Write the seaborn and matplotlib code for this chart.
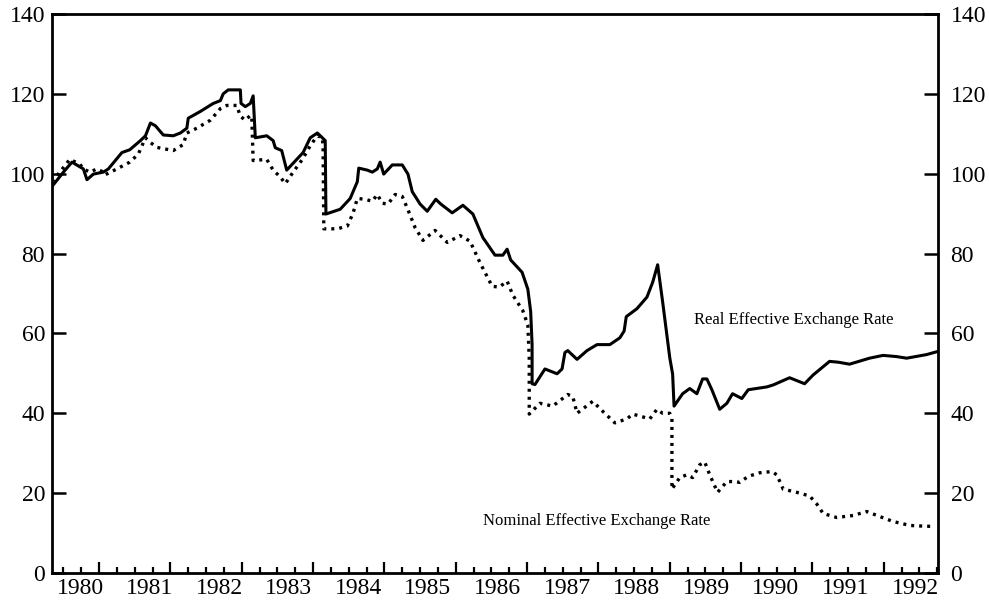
import matplotlib
matplotlib.use("Agg")
import matplotlib.pyplot as plt
import matplotlib.transforms as mtransforms
import seaborn as sns
import pandas as pd
import numpy as np

# ---- data ----
real_years = [1980.34, 1980.50, 1980.62, 1980.78, 1980.83, 1980.92, 1981.06, 1981.13,
              1981.32, 1981.43, 1981.58, 1981.65, 1981.72, 1981.79, 1981.90, 1982.04,
              1982.14, 1982.23, 1982.25, 1982.42, 1982.60, 1982.70, 1982.74, 1982.81,
              1982.98, 1982.99, 1983.05, 1983.12, 1983.16, 1983.19, 1983.35, 1983.44,
              1983.47, 1983.56, 1983.63, 1983.86, 1983.96, 1984.06, 1984.17, 1984.18,
              1984.38, 1984.52, 1984.62, 1984.64, 1984.76, 1984.83, 1984.90, 1984.94,
              1984.99, 1985.11, 1985.25, 1985.33, 1985.39, 1985.50, 1985.60, 1985.72,
              1985.79, 1985.95, 1986.10, 1986.24, 1986.38, 1986.55, 1986.66, 1986.72,
              1986.77, 1986.93, 1987.01, 1987.05, 1987.07, 1987.07, 1987.11, 1987.25,
              1987.42, 1987.49, 1987.53, 1987.57, 1987.70, 1987.84, 1987.98, 1988.16,
              1988.30, 1988.36, 1988.39, 1988.54, 1988.68, 1988.76, 1988.83, 1988.90,
              1989.00, 1989.04, 1989.06, 1989.18, 1989.28, 1989.38, 1989.46, 1989.52,
              1989.59, 1989.70, 1989.80, 1989.88, 1990.01, 1990.10, 1990.36, 1990.45,
              1990.68, 1990.89, 1991.01, 1991.24, 1991.36, 1991.52, 1991.80, 1991.99,
              1992.18, 1992.32, 1992.60, 1992.76]
real_values = [96.8, 100.4, 102.9, 101.2, 98.5, 99.9, 100.4, 101.2,
               105.3, 106.0, 108.3, 109.5, 112.7, 112.0, 109.7, 109.5,
               110.2, 111.4, 113.9, 115.6, 117.6, 118.3, 120.0, 121.0,
               121.0, 117.6, 116.8, 117.6, 119.5, 109.0, 109.5, 108.3,
               106.5, 105.8, 100.9, 105.3, 109.0, 110.2, 108.3, 89.9,
               91.1, 93.8, 98.0, 101.4, 100.9, 100.4, 101.2, 102.9,
               99.9, 102.2, 102.2, 99.9, 95.5, 92.4, 90.6, 93.6,
               92.4, 90.2, 92.1, 89.9, 84.0, 79.6, 79.6, 81.1,
               78.4, 75.3, 71.1, 65.5, 57.2, 47.4, 47.2, 51.1,
               49.9, 51.1, 55.2, 55.7, 53.5, 55.7, 57.2, 57.2,
               58.9, 60.6, 64.2, 66.2, 69.1, 72.8, 77.2, 67.9,
               53.9, 49.8, 41.8, 44.9, 46.2, 44.9, 48.6, 48.6,
               45.9, 41.0, 42.5, 44.9, 43.7, 45.9, 46.6, 47.1,
               48.9, 47.4, 49.6, 53.0, 52.8, 52.3, 53.8, 54.5,
               54.2, 53.8, 54.7, 55.5]

nominal_years = [1980.34, 1980.45, 1980.59, 1980.73, 1980.78, 1980.87, 1980.97, 1981.06,
                 1981.08, 1981.25, 1981.43, 1981.55, 1981.65, 1981.72, 1981.81, 1982.04,
                 1982.18, 1982.23, 1982.37, 1982.56, 1982.70, 1982.79, 1982.93, 1982.98,
                 1983.05, 1983.12, 1983.14, 1983.16, 1983.35, 1983.44, 1983.54, 1983.61,
                 1983.72, 1983.85, 1983.96, 1984.06, 1984.13, 1984.14, 1984.15, 1984.34,
                 1984.48, 1984.56, 1984.62, 1984.73, 1984.83, 1984.90, 1984.97, 1985.05,
                 1985.15, 1985.25, 1985.32, 1985.43, 1985.54, 1985.71, 1985.88, 1986.06,
                 1986.20, 1986.34, 1986.51, 1986.61, 1986.72, 1986.80, 1986.94, 1987.01,
                 1987.03, 1987.03, 1987.03, 1987.18, 1987.36, 1987.57, 1987.64, 1987.70,
                 1987.92, 1988.06, 1988.23, 1988.40, 1988.48, 1988.72, 1988.82, 1988.90,
                 1989.00, 1989.03, 1989.03, 1989.14, 1989.24, 1989.32, 1989.42, 1989.49,
                 1989.56, 1989.67, 1989.80, 1989.91, 1989.98, 1990.10, 1990.26, 1990.43,
                 1990.50, 1990.59, 1990.78, 1990.96, 1991.06, 1991.15, 1991.34, 1991.57,
                 1991.76, 1991.95, 1992.13, 1992.37, 1992.60, 1992.72]
nominal_values = [98.0, 100.4, 103.6, 102.4, 101.2, 100.4, 101.2, 100.4,
                  99.7, 101.2, 102.9, 104.9, 109.0, 107.8, 106.6, 105.8,
                  107.3, 110.2, 111.4, 113.4, 116.3, 117.1, 117.1, 114.4,
                  113.4, 114.6, 114.4, 103.3, 103.6, 100.9, 99.2, 97.5,
                  100.4, 103.6, 107.0, 109.5, 109.0, 107.0, 86.2, 86.2,
                  86.9, 90.1, 93.8, 93.6, 93.1, 94.8, 92.6, 92.4,
                  94.8, 94.3, 91.4, 86.5, 83.3, 85.8, 82.8, 84.5,
                  83.1, 77.7, 71.8, 71.6, 73.1, 69.6, 65.7, 62.1,
                  53.9, 46.6, 39.8, 42.5, 41.8, 44.7, 44.2, 40.0,
                  43.0, 40.5, 37.6, 38.6, 39.8, 38.6, 41.0, 40.0,
                  40.0, 38.6, 21.0, 23.9, 24.6, 23.9, 27.1, 27.8,
                  24.6, 20.2, 22.9, 22.9, 22.7, 24.2, 25.1, 25.4,
                  24.6, 21.0, 20.2, 19.3, 17.3, 14.9, 13.9, 14.4,
                  15.4, 14.1, 12.9, 11.9, 11.7, 11.7]

year_labels = [str(y) for y in range(1980, 1993)]
y_ticks = [0, 20, 40, 60, 80, 100, 120, 140]
real_label = "Real Effective Exchange Rate"
nominal_label = "Nominal Effective Exchange Rate"

# ---- styling ----
sns.set_style("white")
plt.rcParams["font.family"] = ["Liberation Serif", "DejaVu Serif"]

fig = plt.figure(figsize=(9.89, 6.06), dpi=100)
W, H = 989, 606
ax = fig.add_axes([52 / W, 1 - 573 / H, (938 - 52) / W, (573 - 14) / H])

real_df = pd.DataFrame({"year": real_years, "value": real_values})
nom_df = pd.DataFrame({"year": nominal_years, "value": nominal_values})

sns.lineplot(data=real_df, x="year", y="value", sort=False, estimator=None,
             ax=ax, color="black", linewidth=2.2)
sns.lineplot(data=nom_df, x="year", y="value", sort=False, estimator=None,
             ax=ax, color="black", linewidth=2.4,
             linestyle=(0, (0.9, 1.5)))

xmin, xmax = 1980.34, 1992.76
ax.set_xlim(xmin, xmax)
ax.set_ylim(0, 140)
ax.set_xlabel("")
ax.set_ylabel("")

for s in ax.spines.values():
    s.set_linewidth(2.0)
    s.set_color("black")
    s.set_visible(True)

# x ticks: year boundaries (major) and quarters (minor), pointing inward
ax.set_xticks(list(range(1981, 1993)))
ax.set_xticks([q for q in np.arange(1980.5, 1992.76, 0.25)], minor=True)
ax.tick_params(axis="x", which="major", direction="in", length=8, width=1.6,
               labelbottom=False, bottom=True, color="black")
ax.tick_params(axis="x", which="minor", direction="in", length=4, width=1.6,
               bottom=True, color="black")

# year labels under the axis
trans = mtransforms.blended_transform_factory(ax.transData, ax.transAxes)
for i, lab in enumerate(year_labels):
    px = 80 + 69.6 * i
    xpos = 1981 + (px - 99) / 71.36
    ax.text(xpos, -15 / 559, lab, transform=trans, ha="center", va="center",
            fontsize=17, color="black")

# left y axis
ax.set_yticks(y_ticks)
ax.set_yticklabels([str(v) for v in y_ticks])
ax.tick_params(axis="y", direction="in", length=10, width=1.8, left=True,
               labelsize=17, pad=5, colors="black")

# right y axis
ax2 = ax.twinx()
ax2.set_ylim(0, 140)
ax2.set_yticks(y_ticks)
ax2.set_yticklabels([str(v) for v in y_ticks])
ax2.tick_params(axis="y", direction="in", length=10, width=1.8, right=True,
                labelsize=17, pad=9, colors="black")
for s in ax2.spines.values():
    s.set_visible(False)

# series labels
ax.text(1990.74, 63.4, real_label, ha="center", va="center", fontsize=12,
        color="black")
ax.text(1987.98, 13.0, nominal_label, ha="center", va="center", fontsize=12,
        color="black")

fig.savefig("out.png", dpi=100, facecolor="white")
